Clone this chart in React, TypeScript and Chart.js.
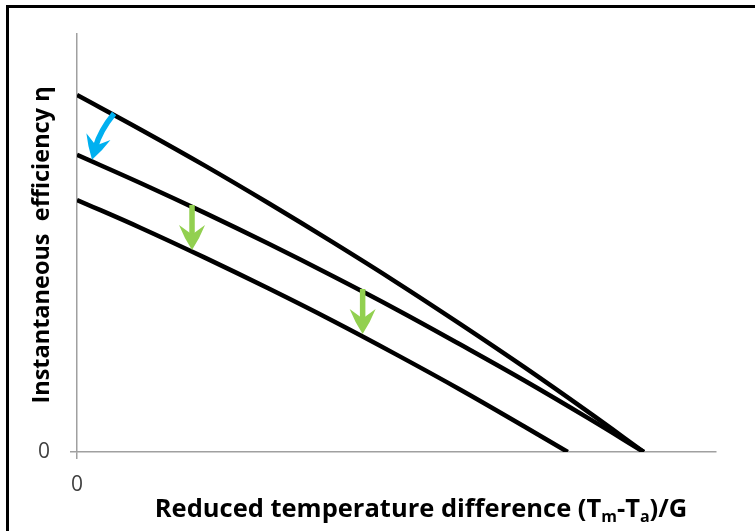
import React, { useEffect, useRef } from "react";
import { Chart, registerables } from "chart.js";

Chart.register(...registerables);

// Reduced temperature difference (x) and efficiency (y), arbitrary units
const topX = [0, 10, 20, 30, 40, 50, 60, 70, 80, 88.7];
const topY = [85.4, 77.1, 68.5, 59.5, 50.2, 40.6, 30.6, 20.3, 9.6, 0];

const midX = [0, 10, 20, 30, 40, 50, 60, 70, 80, 88.7];
const midY = [71.1, 64.3, 57.2, 49.8, 42.1, 34.1, 25.7, 17.1, 8.1, 0];

const lowX = [0, 10, 20, 30, 40, 50, 60, 70, 76.8];
const lowY = [60.3, 53.6, 46.5, 39.1, 31.4, 23.3, 14.9, 6.1, 0];

// Green arrows: x, top y, tip y
const greenArrowX = [18.0, 44.7];
const greenArrowTop = [59.1, 39.0];
const greenArrowTip = [48.3, 28.2];

// Blue curved arrow: start, control, tip
const blueArrowX = [5.8, 3.6, 2.35];
const blueArrowY = [81.0, 76.8, 69.9];

const xTickValues = [0];
const yTickValues = [0];

const yTitle = "Instantaneous  efficiency \u03b7";

function toPoints(xs: number[], ys: number[]) {
  return xs.map((x, i) => ({ x, y: ys[i] }));
}

function drawHead(ctx: CanvasRenderingContext2D, tx: number, ty: number, angle: number, len: number, half: number, color: string) {
  ctx.save();
  ctx.translate(tx, ty);
  ctx.rotate(angle);
  ctx.fillStyle = color;
  ctx.beginPath();
  ctx.moveTo(0, 0);
  ctx.quadraticCurveTo(-len * 0.5, -half * 0.62, -len, -half);
  ctx.lineTo(-len * 0.62, 0);
  ctx.lineTo(-len, half);
  ctx.quadraticCurveTo(-len * 0.5, half * 0.62, 0, 0);
  ctx.closePath();
  ctx.fill();
  ctx.restore();
}

const decorPlugin = {
  id: "decor",
  afterDatasetsDraw(chart: any) {
    const ctx: CanvasRenderingContext2D = chart.ctx;
    const xs = chart.scales.x;
    const ys = chart.scales.y;
    const green = "#92D050";
    for (let i = 0; i < greenArrowX.length; i++) {
      const px = xs.getPixelForValue(greenArrowX[i]);
      const py0 = ys.getPixelForValue(greenArrowTop[i]);
      const py1 = ys.getPixelForValue(greenArrowTip[i]);
      ctx.save();
      ctx.strokeStyle = green;
      ctx.lineWidth = 5.5;
      ctx.beginPath();
      ctx.moveTo(px, py0);
      ctx.lineTo(px, py1 - 14);
      ctx.stroke();
      ctx.restore();
      drawHead(ctx, px, py1, Math.PI / 2, 25, 13, green);
    }
    const blue = "#00B0F0";
    const sx = xs.getPixelForValue(blueArrowX[0]);
    const sy = ys.getPixelForValue(blueArrowY[0]);
    const cx = xs.getPixelForValue(blueArrowX[1]);
    const cy = ys.getPixelForValue(blueArrowY[1]);
    const tx = xs.getPixelForValue(blueArrowX[2]);
    const ty = ys.getPixelForValue(blueArrowY[2]);
    const ang = Math.atan2(ty - cy, tx - cx);
    const bx = tx - Math.cos(ang) * 14;
    const by = ty - Math.sin(ang) * 14;
    ctx.save();
    ctx.strokeStyle = blue;
    ctx.lineWidth = 5.5;
    ctx.beginPath();
    ctx.moveTo(sx, sy);
    ctx.quadraticCurveTo(cx, cy, bx, by);
    ctx.stroke();
    ctx.restore();
    drawHead(ctx, tx, ty, ang, 24, 12.5, blue);
  },
  afterDraw(chart: any) {
    const ctx: CanvasRenderingContext2D = chart.ctx;
    ctx.save();
    ctx.fillStyle = "#000";
    ctx.font = "bold 23.5px 'Open Sans'";
    ctx.textAlign = "center";
    ctx.textBaseline = "middle";
    ctx.translate(42, 245);
    ctx.rotate(-Math.PI / 2);
    ctx.fillText(yTitle, 0, 0);
    ctx.restore();

    ctx.save();
    ctx.fillStyle = "#000";
    ctx.textBaseline = "alphabetic";
    ctx.textAlign = "left";
    const big = "bold 25.5px 'Open Sans'";
    const small = "bold 16px 'Open Sans'";
    const parts: [string, boolean][] = [
      ["Reduced temperature difference (T", false],
      ["m", true],
      ["-T", false],
      ["a", true],
      [")/G", false],
    ];
    let total = 0;
    for (const [t, sub] of parts) {
      ctx.font = sub ? small : big;
      total += ctx.measureText(t).width;
    }
    let x = 421 - total / 2;
    const baseY = 517;
    for (const [t, sub] of parts) {
      ctx.font = sub ? small : big;
      ctx.fillText(t, x, sub ? baseY + 5 : baseY);
      x += ctx.measureText(t).width;
    }
    ctx.restore();
  },
};

export default function App() {
  const ref = useRef<HTMLCanvasElement | null>(null);
  useEffect(() => {
    document.body.style.margin = "0";
    if (!ref.current) return;
    const line = { borderColor: "#000", borderWidth: 4.5, pointRadius: 0, fill: false, tension: 0.4 };
    const chart = new Chart(ref.current, {
      type: "line",
      data: {
        datasets: [
          { ...line, label: "top", data: toPoints(topX, topY) },
          { ...line, label: "mid", data: toPoints(midX, midY) },
          { ...line, label: "low", data: toPoints(lowX, lowY) },
        ],
      },
      options: {
        animation: false,
        responsive: false,
        maintainAspectRatio: false,
        layout: { padding: { left: 0, top: 34, right: 39, bottom: 0 } },
        plugins: { legend: { display: false }, tooltip: { enabled: false } },
        scales: {
          x: {
            type: "linear",
            min: 0,
            max: 100,
            afterBuildTicks: (s: any) => { s.ticks = xTickValues.map((v) => ({ value: v })); },
            afterFit: (s: any) => { s.height = 79; },
            border: { display: true, color: "#A0A0A0", width: 1.5 },
            grid: { display: true, drawOnChartArea: false, drawTicks: true, tickLength: 7, color: "#A0A0A0", lineWidth: 1.5 },
            ticks: { color: "#404040", font: { family: "'Open Sans'", size: 21 }, padding: 13, maxRotation: 0 },
          },
          y: {
            type: "linear",
            min: 0,
            max: 100,
            afterBuildTicks: (s: any) => { s.ticks = yTickValues.map((v) => ({ value: v })); },
            afterFit: (s: any) => { s.width = 77; },
            border: { display: true, color: "#A0A0A0", width: 1.5 },
            grid: { display: true, drawOnChartArea: false, drawTicks: true, tickLength: 7, color: "#A0A0A0", lineWidth: 1.5 },
            ticks: { color: "#404040", font: { family: "'Open Sans'", size: 21 }, padding: 20 },
          },
        },
      },
      plugins: [decorPlugin],
    });
    return () => chart.destroy();
  }, []);
  return (
    <div style={{ position: "relative", width: 755, height: 531, overflow: "hidden", background: "#fff" }}>
      <canvas ref={ref} width={755} height={531} style={{ display: "block" }} />
      <div style={{ position: "absolute", left: 6, top: 5, width: 900, height: 900, borderTop: "3px solid #000", borderLeft: "3px solid #000", pointerEvents: "none" }} />
    </div>
  );
}
